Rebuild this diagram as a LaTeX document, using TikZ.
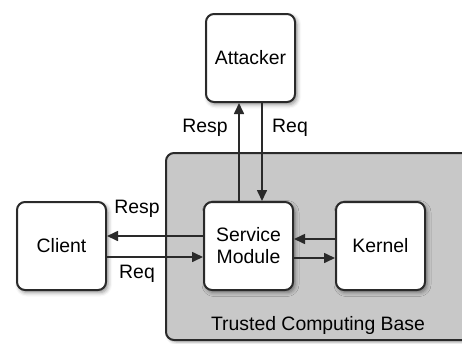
\documentclass[tikz,border=0pt]{standalone}
\usepackage{fontspec}
\setmainfont{Liberation Sans}
\usetikzlibrary{arrows.meta,shadows.blur}
\definecolor{tcbgray}{HTML}{C8C8C8}
\definecolor{edge}{HTML}{2A2A2A}
\tikzset{
  box/.style={draw=edge, line width=2pt, rounded corners=8pt, fill=white,
    minimum width=89pt, minimum height=88pt, inner sep=0pt, align=center,
    font=\fontsize{19.4}{23}\selectfont,
    blur shadow={shadow xshift=2pt, shadow yshift=-2.5pt, shadow blur radius=4pt, shadow opacity=45}},
  flow/.style={draw=edge, line width=1.6pt, -{Triangle[length=11pt,width=10pt]}},
  lbl/.style={font=\fontsize{19.4}{23}\selectfont, inner sep=0pt}
}
\begin{document}
\begin{tikzpicture}[x=1pt,y=-1pt]
\useasboundingbox (0,0) rectangle (462,343);
% trusted computing base region
\begin{scope}
\clip (0,0) rectangle (462,343);
\node[draw=edge, line width=2pt, rounded corners=8pt, fill=tcbgray,
  minimum width=320pt, minimum height=187pt, inner sep=0pt,
  blur shadow={shadow xshift=2pt, shadow yshift=-2pt, shadow blur radius=3pt, shadow opacity=35}]
  (tcb) at (326,246.5) {};
\end{scope}
\node[lbl] (tcblbl) at (318,325) {Trusted Computing Base};

% components
\node[box] (att) at (250.5,58) {Attacker};
\node[box] (cli) at (61.5,246) {Client};
\node[box] (sm) at (248.5,246) {Service\\[-1pt]Module};
\node[box] (ker) at (380.5,246) {Kernel};

% attacker <-> service module
\draw[flow] (sm.north -| 239,0) -- (att.south -| 239,0);
\draw[flow] (att.south -| 262,0) -- (sm.north -| 262,0);
\node[lbl] (l1) at (205,128) {Resp};
\node[lbl] (l2) at (290,128) {Req};

% client <-> service module
\draw[flow] (sm.west |- 0,236) -- (cli.east |- 0,236);
\draw[flow] (cli.east |- 0,257) -- (sm.west |- 0,257);
\node[lbl] (l3) at (137,209) {Resp};
\node[lbl] (l4) at (137,274) {Req};

% service module <-> kernel
\draw[flow] (ker.west |- 0,239) -- (sm.east |- 0,239);
\draw[flow] (sm.east |- 0,258) -- (ker.west |- 0,258);
\end{tikzpicture}
\end{document}
